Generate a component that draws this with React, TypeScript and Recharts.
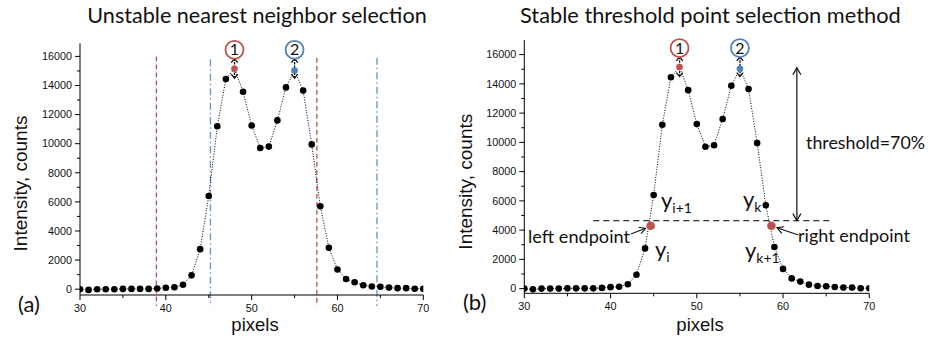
import { LineChart, Line, XAxis, YAxis, ReferenceLine, ReferenceDot } from 'recharts';

// pixel positions along the profile
const pixels = [
  30, 31, 32, 33, 34, 35, 36, 37, 38, 39, 40, 41, 42, 43, 44, 45, 46, 47, 48, 49, 50,
  51, 52, 53, 54, 55, 56, 57, 58, 59, 60, 61, 62, 63, 64, 65, 66, 67, 68, 69, 70,
];
// intensity counts
const intensity = [
  0, -50, 0, 0, 0, 20, 20, 20, 20, 50, 100, 130, 300, 950, 2750, 6400, 11200, 14450, 15150, 13570, 11250,
  9700, 9800, 11600, 13870, 15030, 13650, 9950, 5700, 2850, 1350, 700, 480, 270, 180, 160, 110, 70, 70, 30, 30,
];

const xTicks = [30, 35, 40, 45, 50, 55, 60, 65, 70];
const yTicks = [0, 1000, 2000, 3000, 4000, 5000, 6000, 7000, 8000, 9000, 10000, 11000, 12000, 13000, 14000, 15000, 16000];

const peakPixels = [48, 55];
const peakLabels = ['1', '2'];
const badgeLevel = 16450;
const peakArrow = [15850, 14500];

// panel (a): nearest neighbour boundaries
const nearestRed = [38.9, 57.6];
const nearestBlue = [45.2, 64.6];
const boundaryTop = [16000, 15900];
const boundaryBottom = -1150;

// panel (b): threshold
const thresholdLevel = 4650;
const thresholdSpan = [38, 65.5];
const thresholdArrowX = 61.6;
const thresholdArrowTop = 15100;
const endpointPixels = [44.65, 58.65];
const endpointLevel = 4300;

const data = pixels.map((p, i) => ({ pixel: p, value: intensity[i] }));

const RED = '#c0504d';
const BLUE = '#4f81bd';
const ARIAL = '"Liberation Sans", Arial, sans-serif';
const SOFT = 'Lato, "Open Sans", sans-serif';

const renderDot = (props: any) => {
  const { cx, cy, payload, index } = props;
  const k = peakPixels.indexOf(payload.pixel);
  const fill = k === 0 ? RED : k === 1 ? BLUE : '#000';
  return <circle key={`d-${index}`} cx={cx} cy={cy} r={3.3} fill={fill} />;
};

const YTick = (props: any) => {
  const { x, y, payload } = props;
  const major = payload.value % 2000 === 0;
  return (
    <g>
      <line x1={x} x2={x - (major ? 5 : 3)} y1={y} y2={y} stroke="#000" />
      {major && (
        <text x={x - 8} y={y} dy={3.8} textAnchor="end" fontSize={10.8} fill="#111" fontFamily={ARIAL}>
          {payload.value}
        </text>
      )}
    </g>
  );
};

const XTick = (props: any) => {
  const { x, y, payload } = props;
  const major = payload.value % 10 === 0;
  return (
    <g>
      <line x1={x} x2={x} y1={y} y2={y + (major ? 5 : 3)} stroke="#000" />
      {major && (
        <text x={x} y={y + 17} textAnchor="middle" fontSize={10.8} fill="#111" fontFamily={ARIAL}>
          {payload.value}
        </text>
      )}
    </g>
  );
};

const Badge = (props: any) => {
  const { cx, cy, label, color } = props;
  return (
    <g>
      <circle cx={cx} cy={cy} r={9} fill="#fff" stroke={color} strokeWidth={1.8} />
      <text x={cx} y={cy} dy={5.5} textAnchor="middle" fontSize={16} fill="#111" fontFamily={SOFT}>
        {label}
      </text>
    </g>
  );
};

const DoubleArrow = (props: any) => {
  const { x1, y1, x2, y2, dash, head, len, width } = props;
  const dir = y2 > y1 ? 1 : -1;
  return (
    <g fill="none" stroke="#111" strokeWidth={width}>
      <line x1={x1} y1={y1} x2={x2} y2={y2} strokeDasharray={dash} />
      <polyline points={`${x1 - head},${y1 + dir * len} ${x1},${y1} ${x1 + head},${y1 + dir * len}`} />
      <polyline points={`${x2 - head},${y2 - dir * len} ${x2},${y2} ${x2 + head},${y2 - dir * len}`} />
    </g>
  );
};

function Panel({ variant }: { variant: 'a' | 'b' }) {
  const a = variant === 'a';
  const margin = a
    ? { top: 43.3, right: 40.7, bottom: 14, left: 30 }
    : { top: 40, right: 58.7, bottom: 15.7, left: 10.3 };
  return (
    <LineChart width={464} height={339} data={data} margin={margin}>
      <XAxis
        dataKey="pixel"
        type="number"
        domain={[30, 70]}
        ticks={xTicks}
        allowDataOverflow
        height={30}
        tickSize={0}
        tickMargin={0}
        tick={<XTick />}
        axisLine={{ stroke: '#000' }}
        tickLine={false}
      />
      <YAxis
        type="number"
        domain={a ? [-400, 16900] : [-320, 17000]}
        ticks={yTicks}
        width={50}
        tickSize={0}
        tickMargin={0}
        tick={<YTick />}
        axisLine={{ stroke: '#000' }}
        tickLine={false}
        interval={0}
      />
      {a &&
        nearestRed.map((x, i) => (
          <ReferenceLine
            key={`r${i}`}
            segment={[{ x, y: boundaryTop[i] }, { x, y: boundaryBottom }]}
            ifOverflow="visible"
            stroke={RED}
            strokeWidth={1.3}
            strokeDasharray="5 3"
          />
        ))}
      {a &&
        nearestBlue.map((x, i) => (
          <ReferenceLine
            key={`b${i}`}
            segment={[{ x, y: boundaryTop[1] - (i === 0 ? 100 : 0) }, { x, y: boundaryBottom }]}
            ifOverflow="visible"
            stroke={BLUE}
            strokeOpacity={0.85}
            strokeWidth={1.3}
            strokeDasharray="7 3 1.5 3"
          />
        ))}
      {!a && (
        <ReferenceLine
          segment={[{ x: thresholdSpan[0], y: thresholdLevel }, { x: thresholdSpan[1], y: thresholdLevel }]}
          ifOverflow="visible"
          stroke="#333"
          strokeWidth={1.2}
          strokeDasharray="6 4"
        />
      )}
      {!a && (
        <ReferenceLine
          segment={[{ x: thresholdArrowX, y: thresholdArrowTop }, { x: thresholdArrowX, y: thresholdLevel }]}
          ifOverflow="visible"
          shape={(p: any) => <DoubleArrow {...p} dash="none" head={4} len={7} width={1.2} />}
        />
      )}
      <Line
        dataKey="value"
        stroke="#000"
        strokeWidth={1}
        strokeDasharray="1 1.6"
        dot={renderDot}
        activeDot={false}
        isAnimationActive={false}
      />
      {peakPixels.map((x, i) => (
        <ReferenceLine
          key={`pa${i}`}
          segment={[{ x, y: peakArrow[0] }, { x, y: peakArrow[1] }]}
          ifOverflow="visible"
          shape={(p: any) => <DoubleArrow {...p} dash="2.5 1" head={3.2} len={4} width={1.3} />}
        />
      ))}
      {peakPixels.map((x, i) => (
        <ReferenceDot
          key={`pb${i}`}
          x={x}
          y={badgeLevel}
          ifOverflow="visible"
          shape={(p: any) => <Badge {...p} label={peakLabels[i]} color={i === 0 ? RED : BLUE} />}
        />
      ))}
      {!a &&
        endpointPixels.map((x, i) => (
          <ReferenceDot key={`e${i}`} x={x} y={endpointLevel} r={4.3} fill={RED} stroke="none" ifOverflow="visible" />
        ))}
    </LineChart>
  );
}

export default function App() {
  return (
    <div style={{ position: 'absolute', left: 0, top: 0, width: 928, height: 339, background: '#fff' }}>
      <div style={{ position: 'absolute', left: 0, top: 0 }}>
        <Panel variant="a" />
      </div>
      <div style={{ position: 'absolute', left: 464, top: 0 }}>
        <Panel variant="b" />
      </div>
      <svg
        width={928}
        height={339}
        style={{ position: 'absolute', left: 0, top: 0, pointerEvents: 'none' }}
      >
        <g fontFamily={SOFT} fill="#111">
          <text x={87.3} y={22.7} fontSize={21} textLength={339.4} lengthAdjust="spacingAndGlyphs">
            Unstable nearest neighbor selection
          </text>
          <text x={520} y={22.7} fontSize={21} textLength={380.7} lengthAdjust="spacingAndGlyphs">
            Stable threshold point selection method
          </text>
          <text x={18} y={312} fontSize={22}>(a)</text>
          <text x={463} y={310} fontSize={22}>(b)</text>

          <text x={806} y={149} fontSize={17.5} textLength={119} lengthAdjust="spacingAndGlyphs">threshold=70%</text>
          <text x={528} y={242.5} fontSize={17.5} textLength={102} lengthAdjust="spacingAndGlyphs">left endpoint</text>
          <text x={798} y={241.7} fontSize={17.5} textLength={112} lengthAdjust="spacingAndGlyphs">right endpoint</text>

          <text x={661} y={208} fontSize={22}>
            y<tspan fontSize={14} dy={5}>i+1</tspan>
          </text>
          <text x={655} y={257} fontSize={22}>
            y<tspan fontSize={14} dy={5}>i</tspan>
          </text>
          <text x={743} y={207} fontSize={22}>
            y<tspan fontSize={14} dy={5}>k</tspan>
          </text>
          <text x={745} y={258} fontSize={22}>
            y<tspan fontSize={14} dy={5}>k+1</tspan>
          </text>
        </g>
        <g fill="none" stroke="#111" strokeWidth={1.1}>
          <line x1={631} y1={234} x2={645.5} y2={228.3} />
          <polyline points="638.5,227.3 645.5,228.3 641,233.6" />
          <line x1={798.3} y1={235} x2={777} y2={227.7} />
          <polyline points="781.8,233.3 777,227.7 784.2,226.8" />
        </g>
        <g fontFamily={ARIAL} fill="#111">
          <text transform="translate(26.5,183.5) rotate(-90)" textAnchor="middle" fontSize={19}>
            Intensity, counts
          </text>
          <text transform="translate(471.5,181.7) rotate(-90)" textAnchor="middle" fontSize={19}>
            Intensity, counts
          </text>
          <text x={255} y={331} textAnchor="middle" fontSize={18.5}>pixels</text>
          <text x={700} y={331} textAnchor="middle" fontSize={18.5}>pixels</text>
        </g>
      </svg>
    </div>
  );
}
